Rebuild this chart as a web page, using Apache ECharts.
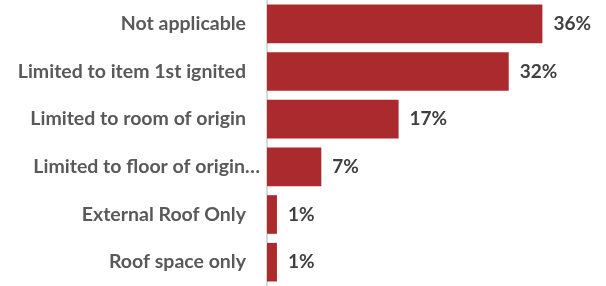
<!DOCTYPE html>
<html>
<head>
<meta charset="utf-8">
<script src="https://cdn.jsdelivr.net/npm/echarts@6/dist/echarts.min.js"></script>
<style>
  html, body { margin: 0; padding: 0; background: #fff; }
  #chart { width: 606px; height: 286px; }
</style>
</head>
<body>
<div id="chart"></div>
<script>
// categories top to bottom
const categories = [
  'Not applicable',
  'Limited to item 1st ignited',
  'Limited to room of origin',
  'Limited to floor of origin\u2026',
  'External Roof Only',
  'Roof space only'
]
const values = [36.0, 31.6, 17.2, 7.1, 1.3, 1.3]
const valueLabels = ['36%', '32%', '17%', '7%', '1%', '1%']

const labelFont = {
  color: '#595959',
  fontFamily: 'Lato',
  fontWeight: 'bold',
  fontSize: 19.5
}

const chart = echarts.init(document.getElementById('chart'))

chart.setOption({
  animation: false,
  grid: {
    left: 267,
    right: 33,
    top: 0,
    height: 290
  },
  xAxis: {
    type: 'value',
    min: 0,
    max: 40,
    show: false
  },
  yAxis: {
    type: 'category',
    inverse: true,
    data: categories,
    axisLine: { lineStyle: { color: '#d9d9d9', width: 2 } },
    axisTick: { show: false },
    axisLabel: Object.assign({
      margin: 7,
      // the truncated label runs closer to the axis than the others
      formatter: v => v.endsWith('\u2026') ? '{e|' + v + '}' : '{n|' + v + '}',
      rich: {
        n: Object.assign({ padding: [0, 14, 0, 0] }, labelFont),
        e: Object.assign({}, labelFont)
      }
    }, labelFont)
  },
  series: [{
    type: 'bar',
    data: values,
    barCategoryGap: '19%',
    itemStyle: { color: '#ab2a2d' },
    label: {
      show: true,
      position: 'right',
      distance: 11,
      color: '#404040',
      fontFamily: 'Lato',
      fontWeight: 'bold',
      fontSize: 19,
      formatter: p => valueLabels[p.dataIndex]
    }
  }]
})
</script>
</body>
</html>
